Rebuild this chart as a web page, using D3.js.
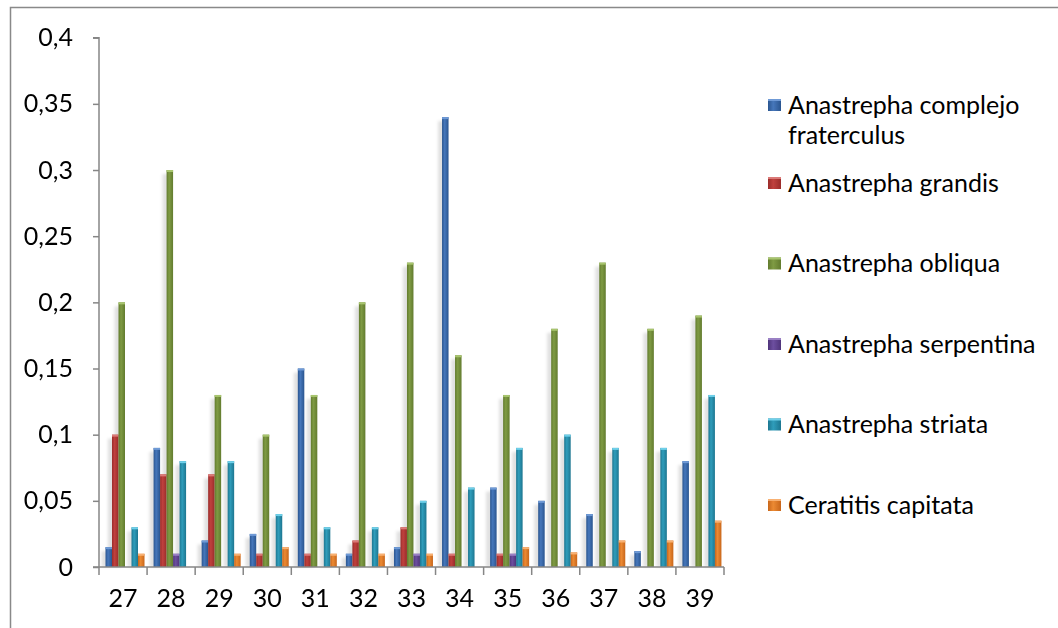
<!DOCTYPE html>
<html>
<head>
<meta charset="utf-8">
<script src="https://cdn.jsdelivr.net/npm/d3@7"></script>
<style>
html,body{margin:0;padding:0;background:#fff;}
svg{display:block;}
text{font-family:"Lato","Liberation Sans",sans-serif;fill:#000;}
</style>
</head>
<body>
<svg id="chart" width="1058" height="628"></svg>
<script>
const categories = ["27","28","29","30","31","32","33","34","35","36","37","38","39"];
const seriesNames = ["Anastrepha complejo fraterculus","Anastrepha grandis","Anastrepha obliqua","Anastrepha serpentina","Anastrepha striata","Ceratitis capitata"];
const fraterculus = [0.015,0.09,0.02,0.025,0.15,0.01,0.015,0.34,0.06,0.05,0.04,0.012,0.08];
const grandis     = [0.1,0.07,0.07,0.01,0.01,0.02,0.03,0.01,0.01,0,0,0,0];
const obliqua     = [0.2,0.3,0.13,0.1,0.13,0.2,0.23,0.16,0.13,0.18,0.23,0.18,0.19];
const serpentina  = [0,0.01,0,0,0,0,0.01,0,0.01,0,0,0,0];
const striata     = [0.03,0.08,0.08,0.04,0.03,0.03,0.05,0.06,0.09,0.1,0.09,0.09,0.13];
const capitata    = [0.01,0,0.01,0.015,0.01,0.01,0.01,0,0.015,0.011,0.02,0.02,0.035];
const yTicks = [0,0.05,0.1,0.15,0.2,0.25,0.3,0.35,0.4];
const yTickLabels = ["0","0,05","0,1","0,15","0,2","0,25","0,3","0,35","0,4"];

const seriesValues = [fraterculus, grandis, obliqua, serpentina, striata, capitata];
const colors = [
  {dark:"#2a558f", mid:"#4677bb", cap:"#6f9ad6"},
  {dark:"#9a2c2a", mid:"#c0413e", cap:"#db7a78"},
  {dark:"#627b2e", mid:"#7f9b44", cap:"#a8c56e"},
  {dark:"#4f347a", mid:"#6d4fa0", cap:"#9a80c4"},
  {dark:"#1d7690", mid:"#2f9dbb", cap:"#6fd0ea"},
  {dark:"#c8661a", mid:"#ec8a33", cap:"#f8b173"}
];
const fontSize = 25;

const svg = d3.select("#chart");
const defs = svg.append("defs");
colors.forEach((c,i)=>{
  const g = defs.append("linearGradient").attr("id","g"+i).attr("x1","0").attr("x2","1").attr("y1","0").attr("y2","0");
  g.append("stop").attr("offset","0%").attr("stop-color",c.dark);
  g.append("stop").attr("offset","40%").attr("stop-color",c.mid);
  g.append("stop").attr("offset","100%").attr("stop-color",c.dark);
});
const f = defs.append("filter").attr("id","blur").attr("x","-50%").attr("y","-10%").attr("width","200%").attr("height","120%");
f.append("feGaussianBlur").attr("stdDeviation",1.8);

// frame
svg.append("rect").attr("x",10.5).attr("y",7.5).attr("width",1100).attr("height",700)
  .attr("fill","none").attr("stroke","#898989").attr("stroke-width",1.5);

const x0 = d3.scaleBand().domain(categories).range([99,724]).padding(0);
const x1 = d3.scaleBand().domain(d3.range(seriesNames.length)).range([6.5, 6.5 + 6.5*6]).padding(0);
const y = d3.scaleLinear().domain([0,0.4]).range([567,37.7]);

// shadows
const gShadow = svg.append("g").attr("filter","url(#blur)");
seriesValues.forEach((vals,si)=>{
  gShadow.selectAll(null).data(vals.map((v,i)=>({v,c:categories[i]})).filter(d=>d.v>0)).enter()
    .append("rect")
    .attr("x",d=>x0(d.c)+x1(si)-4)
    .attr("y",d=>y(d.v)+4)
    .attr("width",x1.bandwidth())
    .attr("height",d=>Math.max(0,y(0)-y(d.v)-4))
    .attr("fill","#000").attr("opacity",0.12);
});

// bars
seriesValues.forEach((vals,si)=>{
  const g = svg.append("g");
  const data = vals.map((v,i)=>({v,c:categories[i]})).filter(d=>d.v>0);
  g.selectAll("rect.bar").data(data).enter().append("rect").attr("class","bar")
    .attr("x",d=>x0(d.c)+x1(si))
    .attr("y",d=>y(d.v))
    .attr("width",x1.bandwidth())
    .attr("height",d=>y(0)-y(d.v))
    .attr("fill","url(#g"+si+")");
  g.selectAll("rect.cap").data(data).enter().append("rect").attr("class","cap")
    .attr("x",d=>x0(d.c)+x1(si))
    .attr("y",d=>y(d.v))
    .attr("width",x1.bandwidth())
    .attr("height",2)
    .attr("fill",colors[si].cap);
});

// y axis
const yAxis = d3.axisLeft(y).tickValues(yTicks).tickFormat((d,i)=>yTickLabels[i]).tickSize(6).tickPadding(20);
const gy = svg.append("g").attr("transform","translate(99,0)").call(yAxis);
gy.select(".domain").attr("stroke","#868686").attr("stroke-width",1.5).attr("d","M-6,37.7H0V567H-6");
gy.selectAll(".tick line").attr("stroke","#868686").attr("stroke-width",1.5);
gy.selectAll(".tick text").attr("font-size",fontSize).attr("font-family","Lato, Liberation Sans, sans-serif").attr("fill","#000");

// x axis
const xAxis = d3.axisBottom(x0).tickSize(0).tickPadding(22);
const gx = svg.append("g").attr("transform","translate(0,567)").call(xAxis);
gx.select(".domain").attr("stroke","#868686").attr("stroke-width",1.5).attr("d","M99,0H724");
gx.selectAll(".tick text").attr("font-size",fontSize).attr("font-family","Lato, Liberation Sans, sans-serif").attr("fill","#000");
const bounds = categories.map(c=>x0(c)).concat([x0(categories[categories.length-1])+x0.bandwidth()]);
gx.selectAll("line.sep").data(bounds).enter().append("line").attr("class","sep")
  .attr("x1",d=>d).attr("x2",d=>d).attr("y1",0).attr("y2",8)
  .attr("stroke","#868686").attr("stroke-width",1.5);

// legend
const legendY = [105,183,263.5,344,424.5,505];
const lg = svg.append("g");
seriesNames.forEach((name,i)=>{
  const yy = legendY[i];
  lg.append("rect").attr("x",768).attr("y",yy-6).attr("width",13).attr("height",12).attr("fill","url(#g"+i+")");
  lg.append("rect").attr("x",768).attr("y",yy-6).attr("width",13).attr("height",2).attr("fill",colors[i].cap);
  let lines = [name];
  if(i===0) lines = ["Anastrepha complejo","fraterculus"];
  lines.forEach((t,li)=>{
    lg.append("text").attr("x",788).attr("y",yy+li*30).attr("dy","0.35em")
      .attr("font-size",fontSize).text(t);
  });
});
</script>
</body>
</html>
